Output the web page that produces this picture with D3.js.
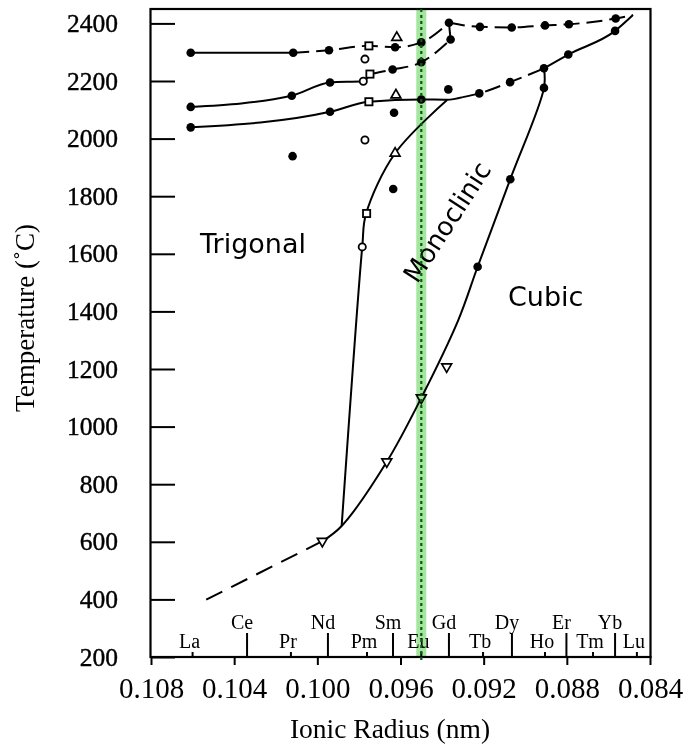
<!DOCTYPE html>
<html>
<head>
<meta charset="utf-8">
<script src="https://cdn.jsdelivr.net/npm/d3@7"></script>
<style>
  html, body { margin: 0; padding: 0; background: #fff; }
  svg { display: block; }
</style>
</head>
<body>
<script>
// ---- Axis ticks ----
const xTicks = [0.108, 0.104, 0.100, 0.096, 0.092, 0.088, 0.084];
const yTicks = [200, 400, 600, 800, 1000, 1200, 1400, 1600, 1800, 2000, 2200, 2400];

// ---- Rare-earth elements along the radius axis (row 0 = lower, 1 = upper) ----
const elements      = ["La", "Ce", "Pr", "Nd", "Pm", "Sm", "Eu", "Gd", "Tb", "Dy", "Ho", "Er", "Tm", "Yb", "Lu"];
const elementRadius = [0.1060, 0.10338, 0.10127, 0.09949, 0.09761, 0.09636, 0.0950, 0.09367, 0.09203, 0.09064, 0.08905, 0.08802, 0.08674, 0.08568, 0.08463];
const elementRow    = [0, 1, 0, 1, 0, 1, 0, 1, 0, 1, 0, 1, 0, 1, 0];

// Highlighted composition (Eu)
const highlightRadius = 0.0950;

// ---- Phase boundary curves: radius (nm) and temperature (°C) ----
// upper transition line
const upperSolidR  = [0.10609, 0.10116];
const upperSolidT  = [2298, 2298];
const upperDashR   = [0.10116, 0.09944, 0.09752, 0.09626, 0.0950, 0.09367];
const upperDashT   = [2298, 2307, 2322, 2317, 2334, 2402];
const topDashR     = [0.09367, 0.09218, 0.09065, 0.08905, 0.08790, 0.08565, 0.08482];
const topDashT     = [2402, 2388, 2386, 2393, 2397, 2417, 2429];
// middle transition line
const middleSolidR = [0.10609, 0.10123, 0.09939, 0.09779, 0.09747];
const middleSolidT = [2110, 2149, 2195, 2199, 2224];
const middleDashR  = [0.09747, 0.09638, 0.0950, 0.09359];
const middleDashT  = [2224, 2240, 2265, 2344];
const gdRiseR      = [0.09359, 0.09367];
const gdRiseT      = [2344, 2402];
// lower transition line
const lowerSolidR  = [0.10609, 0.09939, 0.09752, 0.0950, 0.09376, 0.09300];
const lowerSolidT  = [2039, 2093, 2128, 2136, 2135, 2144];
const lowerDashR   = [0.09300, 0.09221, 0.09073, 0.08910];
const lowerDashT   = [2144, 2157, 2196, 2244];
const lowerEndR    = [0.08910, 0.08793, 0.08568, 0.08482];
const lowerEndT    = [2244, 2292, 2374, 2429];
// trigonal / monoclinic boundary
const monoBoundR   = [0.09883, 0.09784, 0.09766, 0.09626, 0.09376];
const monoBoundT   = [655, 1624, 1738, 1949, 2134];
// cubic boundary
const cubicBoundR  = [0.08910, 0.08910, 0.09072, 0.09229, 0.09322, 0.0950, 0.09666, 0.09883, 0.09976];
const cubicBoundT  = [2244, 2176, 1859, 1555, 1370, 1100, 878, 655, 602];
// low-temperature extrapolation (dashed)
const lowDashR     = [0.09976, 0.10548];
const lowDashT     = [602, 394];

// ---- Measured points by symbol ----
const filledR = [0.10609, 0.10116, 0.09944, 0.09626, 0.0950, 0.09367, 0.09218, 0.09065, 0.08905, 0.08790, 0.08565,
                 0.10609, 0.10123, 0.09939, 0.09638, 0.0950, 0.09359,
                 0.10609, 0.09939, 0.0950, 0.09221, 0.09073, 0.08910, 0.08793, 0.08568,
                 0.09631, 0.09370, 0.10119, 0.09635, 0.09072, 0.09229, 0.08910];
const filledT = [2298, 2298, 2307, 2317, 2334, 2402, 2388, 2386, 2393, 2397, 2417,
                 2110, 2149, 2195, 2240, 2265, 2344,
                 2039, 2093, 2136, 2157, 2196, 2244, 2292, 2374,
                 2090, 2171, 1939, 1825, 1859, 1555, 2176];
const openCircleR = [0.09771, 0.09779, 0.09771, 0.09784];
const openCircleT = [2276, 2199, 1995, 1624];
const squareR     = [0.09752, 0.09747, 0.09752, 0.09763];
const squareT     = [2322, 2224, 2128, 1740];
const triUpR      = [0.09618, 0.09622, 0.09626];
const triUpT      = [2351, 2151, 1949];
const triDownR    = [0.09378, 0.0950, 0.09666, 0.09976];
const triDownT    = [1208, 1100, 878, 602];

// ---- Region labels ----
const regionNames = ["Trigonal", "Cubic", "Monoclinic"];

// ---------------------------------------------------------------
const W = 684, H = 751;
const serif = "'Liberation Serif', 'Times New Roman', serif";
const sans = "'DejaVu Sans', Verdana, sans-serif";

const x = d3.scaleLinear().domain([0.108, 0.084]).range([151, 650]);
const y = d3.scaleLinear().domain([200, 2450]).range([657, 9]);

const svg = d3.select("body").append("svg")
  .attr("width", W).attr("height", H);

const zip = (rs, ts) => rs.map((r, i) => [r, ts[i]]);

// Y axis: ticks point into the plot, labels outside
const yAxis = svg.append("g")
  .attr("transform", "translate(151,0)")
  .call(d3.axisLeft(y).tickValues(yTicks).tickFormat(d3.format("d"))
        .tickSizeInner(-24).tickSizeOuter(0).tickPadding(33));
yAxis.select(".domain").remove();
yAxis.selectAll(".tick line").attr("stroke", "#000").attr("stroke-width", 2);
yAxis.selectAll(".tick text")
  .attr("font-family", serif).attr("font-size", 25.5).attr("fill", "#000")
  .attr("stroke", "#000").attr("stroke-width", 0.4);

// X axis: short ticks below the frame
const xAxis = svg.append("g")
  .attr("transform", "translate(0,656)")
  .call(d3.axisBottom(x).tickValues(xTicks).tickFormat(d3.format(".3f"))
        .tickSizeInner(9).tickSizeOuter(0).tickPadding(12));
xAxis.select(".domain").remove();
xAxis.selectAll(".tick line").attr("stroke", "#000").attr("stroke-width", 2);
xAxis.selectAll(".tick text")
  .attr("font-family", serif).attr("font-size", 29).attr("fill", "#000");

// Plot frame
svg.append("rect")
  .attr("x", x(0.108) - 0.5).attr("y", y(2450))
  .attr("width", x(0.084) - x(0.108) + 1).attr("height", y(200) - y(2450))
  .attr("fill", "none").attr("stroke", "#000").attr("stroke-width", 2.2);

// Element markers along the bottom edge
const elG = svg.append("g");
elementRadius.forEach((r, i) => {
  const up = elementRow[i] === 1;
  elG.append("line")
    .attr("x1", x(r)).attr("x2", x(r))
    .attr("y1", y(200)).attr("y2", y(200) - (up ? 24 : 5))
    .attr("stroke", "#000").attr("stroke-width", 2);
  elG.append("text")
    .attr("x", x(r) + (up ? -5 : -3)).attr("y", up ? 629 : 648)
    .attr("text-anchor", "middle")
    .attr("font-family", serif).attr("font-size", 20)
    .text(elements[i]);
});

// Boundary curves
const line = d3.line().x(d => x(d[0])).y(d => y(d[1]));
const mono = d3.line().x(d => x(d[0])).y(d => y(d[1])).curve(d3.curveMonotoneX);
const smooth = d3.line().x(d => x(d[0])).y(d => y(d[1])).curve(d3.curveCatmullRom.alpha(0.5));
const curves = [
  { r: upperSolidR,  t: upperSolidT,  gen: line,   dash: null },
  { r: upperDashR,   t: upperDashT,   gen: mono,   dash: "16,7" },
  { r: topDashR,     t: topDashT,     gen: mono,   dash: "16,7" },
  { r: middleSolidR, t: middleSolidT, gen: mono,   dash: null },
  { r: middleDashR,  t: middleDashT,  gen: mono,   dash: "16,7" },
  { r: gdRiseR,      t: gdRiseT,      gen: line,   dash: null },
  { r: lowerSolidR,  t: lowerSolidT,  gen: mono,   dash: null },
  { r: lowerDashR,   t: lowerDashT,   gen: mono,   dash: "16,7" },
  { r: lowerEndR,    t: lowerEndT,    gen: mono,   dash: null },
  { r: monoBoundR,   t: monoBoundT,   gen: smooth, dash: null },
  { r: cubicBoundR,  t: cubicBoundT,  gen: smooth, dash: null },
  { r: lowDashR,     t: lowDashT,     gen: line,   dash: "18,10" }
];
const curveG = svg.append("g");
curves.forEach(c => {
  curveG.append("path")
    .attr("d", c.gen(zip(c.r, c.t)))
    .attr("fill", "none").attr("stroke", "#000").attr("stroke-width", 2)
    .attr("stroke-dasharray", c.dash);
});

// Data symbols
const ptG = svg.append("g");
ptG.selectAll("circle.filled").data(zip(filledR, filledT)).join("circle")
  .attr("class", "filled")
  .attr("cx", d => x(d[0])).attr("cy", d => y(d[1])).attr("r", 4.3)
  .attr("fill", "#000");
ptG.selectAll("circle.open").data(zip(openCircleR, openCircleT)).join("circle")
  .attr("class", "open")
  .attr("cx", d => x(d[0])).attr("cy", d => y(d[1])).attr("r", 3.6)
  .attr("fill", "#fff").attr("stroke", "#000").attr("stroke-width", 1.8);
ptG.selectAll("rect.sq").data(zip(squareR, squareT)).join("rect")
  .attr("class", "sq")
  .attr("x", d => x(d[0]) - 3.6).attr("y", d => y(d[1]) - 3.6)
  .attr("width", 7.2).attr("height", 7.2)
  .attr("fill", "#fff").attr("stroke", "#000").attr("stroke-width", 1.8);
const tri = d3.symbol().type(d3.symbolTriangle).size(42);
ptG.selectAll("path.tu").data(zip(triUpR, triUpT)).join("path")
  .attr("class", "tu")
  .attr("d", tri)
  .attr("transform", d => `translate(${x(d[0])},${y(d[1])})`)
  .attr("fill", "#fff").attr("stroke", "#000").attr("stroke-width", 1.7);
ptG.selectAll("path.td").data(zip(triDownR, triDownT)).join("path")
  .attr("class", "td")
  .attr("d", tri)
  .attr("transform", d => `translate(${x(d[0])},${y(d[1])}) rotate(180)`)
  .attr("fill", "#fff").attr("stroke", "#000").attr("stroke-width", 1.7);

// Region labels
svg.append("text").attr("x", 200).attr("y", 253)
  .attr("font-family", sans).attr("font-size", 27).text(regionNames[0]);
svg.append("text").attr("x", 508).attr("y", 306)
  .attr("font-family", sans).attr("font-size", 27).text(regionNames[1]);
svg.append("text")
  .attr("transform", "translate(447,222) rotate(-57)")
  .attr("text-anchor", "middle").attr("dy", "0.35em")
  .attr("font-family", sans).attr("font-size", 26).text(regionNames[2]);

// Highlight band at the Eu composition
const hx = x(highlightRadius);
svg.append("rect")
  .attr("x", hx - 5).attr("y", y(2450))
  .attr("width", 10).attr("height", y(200) - y(2450))
  .attr("fill", "#a4e69f").style("mix-blend-mode", "multiply");
svg.append("line")
  .attr("x1", hx).attr("x2", hx)
  .attr("y1", y(2450)).attr("y2", y(200) + 6)
  .attr("stroke", "#0d5a12").attr("stroke-width", 2.2)
  .attr("stroke-dasharray", "3,3");

// Axis titles
svg.append("text")
  .attr("x", 390).attr("y", 738)
  .attr("text-anchor", "middle")
  .attr("font-family", serif).attr("font-size", 27.5)
  .text("Ionic Radius (nm)");
svg.append("text")
  .attr("transform", "translate(34,318) rotate(-90)")
  .attr("text-anchor", "middle")
  .attr("font-family", serif).attr("font-size", 27)
  .text("Temperature (\u02DAC)");
</script>
</body>
</html>
